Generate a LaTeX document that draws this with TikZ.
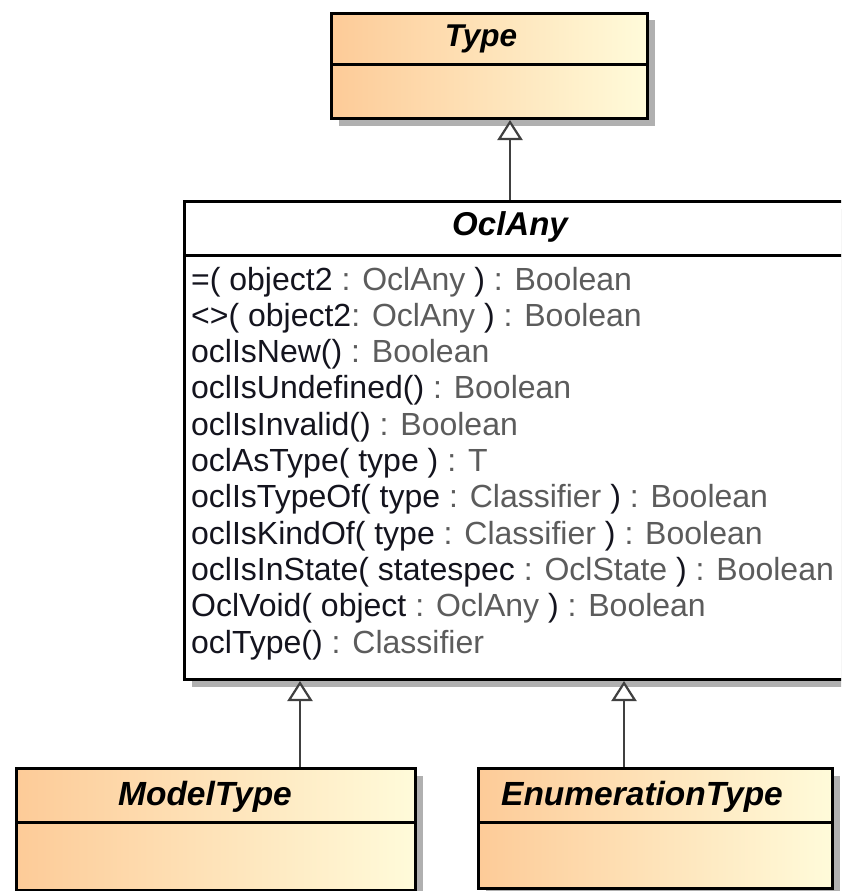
\documentclass[tikz,border=0pt]{standalone}
\usepackage{fontspec}
\setmainfont{Liberation Sans}
\usetikzlibrary{shadows,arrows.meta}
\definecolor{peach}{RGB}{253,203,152}
\definecolor{cream}{RGB}{255,251,218}
\definecolor{shadowgray}{RGB}{176,176,176}
\definecolor{linegray}{RGB}{64,64,64}
\definecolor{typegray}{RGB}{92,92,92}
\definecolor{namecol}{RGB}{20,20,30}
\newcommand{\tp}[1]{\textcolor{typegray}{#1}}
\begin{document}
\begin{tikzpicture}[x=1pt,y=-1pt,
  classbox/.style={draw=black, line width=3pt, anchor=north west, inner sep=0pt,
    drop shadow={shadow xshift=7pt, shadow yshift=-7pt, fill=shadowgray, opacity=1}},
  colored/.style={left color=peach, right color=cream},
  title/.style={anchor=base, inner sep=0pt, font=\fontsize{31.5}{36}\selectfont\bfseries\itshape},
  bigtitle/.style={title, font=\fontsize{33.5}{38}\selectfont\bfseries\itshape},
  sep/.style={draw=black, line width=3pt},
  method/.style={anchor=base west, inner sep=0pt, text=namecol, font=\fontsize{32}{36}\selectfont},
  gen/.style={draw=linegray, line width=2.5pt,
    -{Triangle[open, fill=white, length=20pt, width=25pt, line width=2.2pt]}}
]
\useasboundingbox (0,0) rectangle (841,891);
\clip (0,0) rectangle (841,891);

% Type
\node[classbox, colored, minimum width=316pt, minimum height=105pt] (type) at (330,12) {};
\draw[sep] (type.west |- 0,65) -- (type.east |- 0,65);
\node[title] (typet) at (481,47) {Type};

% OclAny
\node[classbox, fill=white, minimum width=672pt, minimum height=478pt] (oclany) at (183,200) {};
\draw[sep] (oclany.west |- 0,255) -- (oclany.east |- 0,255);
\node[title, font=\fontsize{33}{38}\selectfont\bfseries\itshape] (oclanyt) at (510,235) {OclAny};

\node[method] (m1) at (191,290.0) {=( object2 \tp{: OclAny} ) \tp{: Boolean}};
\node[method] (m2) at (191,326.3) {<>( object2\tp{: OclAny} ) \tp{: Boolean}};
\node[method] (m3) at (191,362.6) {oclIsNew() \tp{: Boolean}};
\node[method] (m4) at (191,398.9) {oclIsUndefined() \tp{: Boolean}};
\node[method] (m5) at (191,435.2) {oclIsInvalid() \tp{: Boolean}};
\node[method] (m6) at (191,471.5) {oclAsType( type ) \tp{: T}};
\node[method] (m7) at (191,507.8) {oclIsTypeOf( type \tp{: Classifier} ) \tp{: Boolean}};
\node[method] (m8) at (191,544.1) {oclIsKindOf( type \tp{: Classifier} ) \tp{: Boolean}};
\node[method] (m9) at (191,580.4) {oclIsInState( statespec \tp{: OclState} ) \tp{: Boolean}};
\node[method] (m10) at (191,616.7) {OclVoid( object \tp{: OclAny} ) \tp{: Boolean}};
\node[method] (m11) at (191,653.0) {oclType() \tp{: Classifier}};

% ModelType
\node[classbox, colored, minimum width=399pt, minimum height=122pt] (model) at (15,767) {};
\draw[sep] (model.west |- 0,822) -- (model.east |- 0,822);
\node[bigtitle] (modelt) at (205,805) {ModelType};

% EnumerationType
\node[classbox, colored, minimum width=354pt, minimum height=120pt] (enum) at (477,767) {};
\draw[sep] (enum.west |- 0,822) -- (enum.east |- 0,822);
\node[bigtitle] (enumt) at (642,805) {EnumerationType};

% generalizations
\coordinate (g1) at (510,0);
\coordinate (g2) at (300,0);
\coordinate (g3) at (624,0);
\draw[gen] (g1 |- oclany.north) -- (g1 |- type.south);
\draw[gen] (g2 |- model.north) -- (g2 |- oclany.south);
\draw[gen] (g3 |- enum.north) -- (g3 |- oclany.south);
\end{tikzpicture}
\end{document}
